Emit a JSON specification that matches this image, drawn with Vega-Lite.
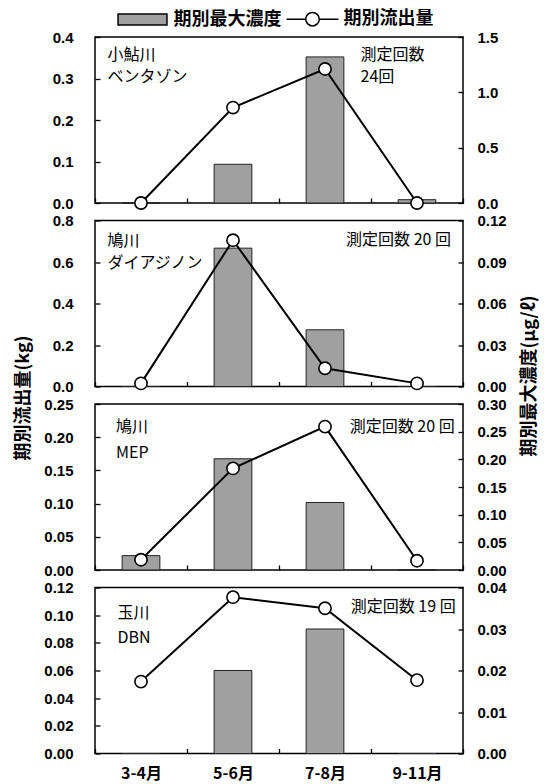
{
  "$schema": "https://vega.github.io/schema/vega-lite/v6.json",
  "padding": {"left": 13, "top": 3, "right": 5, "bottom": 5},
  "bounds": "flush",
  "spacing": 17.5,
  "config": {
    "view": {"stroke": "black", "strokeWidth": 1.5},
    "axis": {"domain": false, "grid": false, "ticks": true, "tickColor": "black", "tickSize": 5, "tickWidth": 1.3, "offset": -5, "labelFont": "Liberation Sans", "labelFontSize": 15, "labelFontWeight": "bold", "labelColor": "black", "labelOverlap": false, "titleFont": "Noto Sans CJK JP", "titleFontSize": 18, "titleColor": "black", "titleFontWeight": "bold"},
    "text": {"font": "Noto Sans CJK JP", "fontSize": 16, "color": "black"}
  },
  "datasets": {
    "p1": [
      {"period": "3-4月", "flow": 0, "conc": 0},
      {"period": "5-6月", "flow": 0.23, "conc": 0.35},
      {"period": "7-8月", "flow": 0.323, "conc": 1.32},
      {"period": "9-11月", "flow": 0, "conc": 0.03}
    ],
    "p2": [
      {"period": "3-4月", "flow": 0.015, "conc": 0},
      {"period": "5-6月", "flow": 0.705, "conc": 0.1},
      {"period": "7-8月", "flow": 0.088, "conc": 0.041},
      {"period": "9-11月", "flow": 0.015, "conc": 0}
    ],
    "p3": [
      {"period": "3-4月", "flow": 0.0155, "conc": 0.026},
      {"period": "5-6月", "flow": 0.153, "conc": 0.201},
      {"period": "7-8月", "flow": 0.216, "conc": 0.122},
      {"period": "9-11月", "flow": 0.014, "conc": 0}
    ],
    "p4": [
      {"period": "3-4月", "flow": 0.052, "conc": 0},
      {"period": "5-6月", "flow": 0.113, "conc": 0.02},
      {"period": "7-8月", "flow": 0.105, "conc": 0.03},
      {"period": "9-11月", "flow": 0.053, "conc": 0}
    ]
  },
  "vconcat": [
    {
      "width": 368, "height": 166,
      "data": {"name": "p1"},
      "encoding": {"x": {"field": "period", "type": "nominal", "sort": null, "scale": {"paddingInner": 0, "paddingOuter": 0}, "axis": {"title": null, "labels": false, "ticks": true, "tickBand": "extent", "labelOverlap": false}}},
      "layer": [
        {"mark": {"type": "bar", "fill": "#a0a0a0", "stroke": "#222", "strokeWidth": 1, "width": {"band": 0.41}},
         "encoding": {"y": {"field": "conc", "type": "quantitative", "scale": {"domain": [0, 1.5], "nice": false}, "axis": {"orient": "right", "title": null, "values": [0, 0.5, 1, 1.5], "format": ".1f", "labelPadding": 14, "labelOverlap": false, "ticks": true}}}},
        {"layer": [
          {"mark": {"type": "line", "color": "black", "strokeWidth": 2},
           "encoding": {"y": {"field": "flow", "type": "quantitative", "scale": {"domain": [0, 0.4], "nice": false}, "axis": {"orient": "left", "title": null, "values": [0, 0.1, 0.2, 0.3, 0.4], "format": ".1f", "labelPadding": 22, "labelOverlap": false, "ticks": true}}}},
          {"mark": {"type": "point", "filled": true, "fill": "white", "stroke": "black", "strokeWidth": 1.6, "size": 150, "opacity": 1},
           "encoding": {"y": {"field": "flow", "type": "quantitative", "axis": {"orient": "left", "title": null, "values": [0, 0.1, 0.2, 0.3, 0.4], "format": ".1f", "labelPadding": 22, "labelOverlap": false, "ticks": true}}}},
          {"data": {"values": [{}]},
           "mark": {"type": "text", "text": ["小鮎川", "ベンタゾン"], "align": "left", "baseline": "top", "dx": -33.6, "dy": 10, "lineHeight": 22},
           "encoding": {"x": {"datum": "3-4月", "type": "nominal", "axis": {"title": null, "labels": false, "ticks": true, "tickBand": "extent", "labelOverlap": false}},
                        "y": {"datum": 0.4, "type": "quantitative", "axis": {"orient": "left", "title": null, "values": [0, 0.1, 0.2, 0.3, 0.4], "format": ".1f", "labelPadding": 22, "labelOverlap": false, "ticks": true}}}},
          {"data": {"values": [{}]},
           "mark": {"type": "text", "text": ["測定回数", "24回"], "align": "left", "baseline": "top", "dx": -56.4, "dy": 10, "lineHeight": 22},
           "encoding": {"x": {"datum": "9-11月", "type": "nominal", "axis": {"title": null, "labels": false, "ticks": true, "tickBand": "extent", "labelOverlap": false}},
                        "y": {"datum": 0.4, "type": "quantitative", "axis": {"orient": "left", "title": null, "values": [0, 0.1, 0.2, 0.3, 0.4], "format": ".1f", "labelPadding": 22, "labelOverlap": false, "ticks": true}}}},
          {"data": {"values": [{"s": "期別最大濃度"}, {"s": "期別流出量"}]},
           "mark": {"type": "point", "filled": true, "opacity": 0, "strokeWidth": 1.5},
           "encoding": {
             "x": {"datum": "3-4月", "type": "nominal", "axis": {"title": null, "labels": false, "ticks": true, "tickBand": "extent", "labelOverlap": false}},
             "y": {"datum": 0, "type": "quantitative", "axis": {"orient": "left", "title": null, "values": [0, 0.1, 0.2, 0.3, 0.4], "format": ".1f", "labelPadding": 22, "labelOverlap": false, "ticks": true}},
             "fill": {"field": "s", "type": "nominal", "scale": {"domain": ["期別最大濃度", "期別流出量"], "range": ["#a0a0a0", "white"]},
               "legend": {"title": null, "orient": "none", "legendX": 31.5, "legendY": -34, "direction": "horizontal", "symbolSize": 900, "symbolStrokeWidth": 1.5, "symbolOpacity": 1, "labelFont": "Noto Sans CJK JP", "labelFontSize": 18, "labelFontWeight": "bold", "labelOffset": 15, "columnPadding": 2, "labelColor": "black", "padding": 0}},
             "stroke": {"field": "s", "type": "nominal", "scale": {"domain": ["期別最大濃度", "期別流出量"], "range": ["black", "black"]},
               "legend": {"title": null, "orient": "none", "legendX": 31.5, "legendY": -34, "direction": "horizontal", "symbolSize": 900, "symbolStrokeWidth": 1.5, "symbolOpacity": 1, "labelFont": "Noto Sans CJK JP", "labelFontSize": 18, "labelFontWeight": "bold", "labelOffset": 15, "columnPadding": 2, "labelColor": "black", "padding": 0}},
             "shape": {"field": "s", "type": "nominal", "scale": {"domain": ["期別最大濃度", "期別流出量"], "range": ["M-1.63,-0.37H1.63V0.37H-1.63Z", "M-1.73,0H-0.45A0.45,0.45,0,1,1,0.45,0A0.45,0.45,0,1,1,-0.45,0ZM0.45,0H1.73"]},
               "legend": {"title": null, "orient": "none", "legendX": 31.5, "legendY": -34, "direction": "horizontal", "symbolSize": 900, "symbolStrokeWidth": 1.5, "symbolOpacity": 1, "labelFont": "Noto Sans CJK JP", "labelFontSize": 18, "labelFontWeight": "bold", "labelOffset": 15, "columnPadding": 2, "labelColor": "black", "padding": 0}}
           }}
        ]}
      ],
      "resolve": {"scale": {"y": "independent"}}
    },
    {
      "width": 368, "height": 166,
      "data": {"name": "p2"},
      "encoding": {"x": {"field": "period", "type": "nominal", "sort": null, "scale": {"paddingInner": 0, "paddingOuter": 0}, "axis": {"title": null, "labels": false, "ticks": true, "tickBand": "extent", "labelOverlap": false}}},
      "layer": [
        {"mark": {"type": "bar", "fill": "#a0a0a0", "stroke": "#222", "strokeWidth": 1, "width": {"band": 0.41}},
         "encoding": {"y": {"field": "conc", "type": "quantitative", "scale": {"domain": [0, 0.12], "nice": false}, "axis": {"orient": "right", "title": "期別最大濃度(μg/ℓ)", "titleAngle": 270, "titleX": 71, "titleY": 155, "titleAlign": "center", "titleBaseline": "middle", "values": [0, 0.03, 0.06, 0.09, 0.12], "format": ".2f", "labelPadding": 14, "labelOverlap": false, "ticks": true}}}},
        {"layer": [
          {"mark": {"type": "line", "color": "black", "strokeWidth": 2},
           "encoding": {"y": {"field": "flow", "type": "quantitative", "scale": {"domain": [0, 0.8], "nice": false}, "axis": {"orient": "left", "title": "期別流出量(kg)", "titleAngle": 270, "titleX": -77, "titleY": 177, "titleAlign": "center", "titleBaseline": "middle", "values": [0, 0.2, 0.4, 0.6, 0.8], "format": ".1f", "labelPadding": 22, "labelOverlap": false, "ticks": true}}}},
          {"mark": {"type": "point", "filled": true, "fill": "white", "stroke": "black", "strokeWidth": 1.6, "size": 150, "opacity": 1},
           "encoding": {"y": {"field": "flow", "type": "quantitative", "axis": {"orient": "left", "title": "期別流出量(kg)", "titleAngle": 270, "titleX": -77, "titleY": 177, "titleAlign": "center", "titleBaseline": "middle", "values": [0, 0.2, 0.4, 0.6, 0.8], "format": ".1f", "labelPadding": 22, "labelOverlap": false, "ticks": true}}}},
          {"data": {"values": [{}]},
           "mark": {"type": "text", "text": ["鳩川", "ダイアジノン"], "align": "left", "baseline": "top", "dx": -33.6, "dy": 12.5, "lineHeight": 22},
           "encoding": {"x": {"datum": "3-4月", "type": "nominal", "axis": {"title": null, "labels": false, "ticks": true, "tickBand": "extent", "labelOverlap": false}},
                        "y": {"datum": 0.8, "type": "quantitative", "axis": {"orient": "left", "title": "期別流出量(kg)", "titleAngle": 270, "titleX": -77, "titleY": 177, "titleAlign": "center", "titleBaseline": "middle", "values": [0, 0.2, 0.4, 0.6, 0.8], "format": ".1f", "labelPadding": 22, "labelOverlap": false, "ticks": true}}}},
          {"data": {"values": [{}]},
           "mark": {"type": "text", "text": "測定回数 20 回", "align": "right", "baseline": "top", "dx": 34, "dy": 11},
           "encoding": {"x": {"datum": "9-11月", "type": "nominal", "axis": {"title": null, "labels": false, "ticks": true, "tickBand": "extent", "labelOverlap": false}},
                        "y": {"datum": 0.8, "type": "quantitative", "axis": {"orient": "left", "title": "期別流出量(kg)", "titleAngle": 270, "titleX": -77, "titleY": 177, "titleAlign": "center", "titleBaseline": "middle", "values": [0, 0.2, 0.4, 0.6, 0.8], "format": ".1f", "labelPadding": 22, "labelOverlap": false, "ticks": true}}}}
        ]}
      ],
      "resolve": {"scale": {"y": "independent"}}
    },
    {
      "width": 368, "height": 166,
      "data": {"name": "p3"},
      "encoding": {"x": {"field": "period", "type": "nominal", "sort": null, "scale": {"paddingInner": 0, "paddingOuter": 0}, "axis": {"title": null, "labels": false, "ticks": true, "tickBand": "extent", "labelOverlap": false}}},
      "layer": [
        {"mark": {"type": "bar", "fill": "#a0a0a0", "stroke": "#222", "strokeWidth": 1, "width": {"band": 0.41}},
         "encoding": {"y": {"field": "conc", "type": "quantitative", "scale": {"domain": [0, 0.3], "nice": false}, "axis": {"orient": "right", "title": null, "values": [0, 0.05, 0.1, 0.15, 0.2, 0.25, 0.3], "format": ".2f", "labelPadding": 14, "labelOverlap": false, "ticks": true}}}},
        {"layer": [
          {"mark": {"type": "line", "color": "black", "strokeWidth": 2},
           "encoding": {"y": {"field": "flow", "type": "quantitative", "scale": {"domain": [0, 0.25], "nice": false}, "axis": {"orient": "left", "title": null, "values": [0, 0.05, 0.1, 0.15, 0.2, 0.25], "format": ".2f", "labelPadding": 22, "labelOverlap": false, "ticks": true}}}},
          {"mark": {"type": "point", "filled": true, "fill": "white", "stroke": "black", "strokeWidth": 1.6, "size": 150, "opacity": 1},
           "encoding": {"y": {"field": "flow", "type": "quantitative", "axis": {"orient": "left", "title": null, "values": [0, 0.05, 0.1, 0.15, 0.2, 0.25], "format": ".2f", "labelPadding": 22, "labelOverlap": false, "ticks": true}}}},
          {"data": {"values": [{}]},
           "mark": {"type": "text", "text": ["鳩川", "MEP"], "align": "left", "baseline": "top", "dx": -25, "dy": 14.5, "lineHeight": 26},
           "encoding": {"x": {"datum": "3-4月", "type": "nominal", "axis": {"title": null, "labels": false, "ticks": true, "tickBand": "extent", "labelOverlap": false}},
                        "y": {"datum": 0.25, "type": "quantitative", "axis": {"orient": "left", "title": null, "values": [0, 0.05, 0.1, 0.15, 0.2, 0.25], "format": ".2f", "labelPadding": 22, "labelOverlap": false, "ticks": true}}}},
          {"data": {"values": [{}]},
           "mark": {"type": "text", "text": "測定回数 20 回", "align": "right", "baseline": "top", "dx": 37.7, "dy": 14.5},
           "encoding": {"x": {"datum": "9-11月", "type": "nominal", "axis": {"title": null, "labels": false, "ticks": true, "tickBand": "extent", "labelOverlap": false}},
                        "y": {"datum": 0.25, "type": "quantitative", "axis": {"orient": "left", "title": null, "values": [0, 0.05, 0.1, 0.15, 0.2, 0.25], "format": ".2f", "labelPadding": 22, "labelOverlap": false, "ticks": true}}}}
        ]}
      ],
      "resolve": {"scale": {"y": "independent"}}
    },
    {
      "width": 368, "height": 166,
      "data": {"name": "p4"},
      "encoding": {"x": {"field": "period", "type": "nominal", "sort": null, "scale": {"paddingInner": 0, "paddingOuter": 0}, "axis": {"title": null, "labels": true, "ticks": true, "tickBand": "extent", "labelFont": "Noto Sans CJK JP", "labelFontSize": 16, "labelFontWeight": "bold", "labelPadding": 20, "labelBaseline": "middle", "labelAngle": 0, "labelOverlap": false}}},
      "layer": [
        {"mark": {"type": "bar", "fill": "#a0a0a0", "stroke": "#222", "strokeWidth": 1, "width": {"band": 0.41}},
         "encoding": {"y": {"field": "conc", "type": "quantitative", "scale": {"domain": [0, 0.04], "nice": false}, "axis": {"orient": "right", "title": null, "values": [0, 0.01, 0.02, 0.03, 0.04], "format": ".2f", "labelPadding": 14, "labelOverlap": false, "ticks": true}}}},
        {"layer": [
          {"mark": {"type": "line", "color": "black", "strokeWidth": 2},
           "encoding": {"y": {"field": "flow", "type": "quantitative", "scale": {"domain": [0, 0.12], "nice": false}, "axis": {"orient": "left", "title": null, "values": [0, 0.02, 0.04, 0.06, 0.08, 0.1, 0.12], "format": ".2f", "labelPadding": 22, "labelOverlap": false, "ticks": true}}}},
          {"mark": {"type": "point", "filled": true, "fill": "white", "stroke": "black", "strokeWidth": 1.6, "size": 150, "opacity": 1},
           "encoding": {"y": {"field": "flow", "type": "quantitative", "axis": {"orient": "left", "title": null, "values": [0, 0.02, 0.04, 0.06, 0.08, 0.1, 0.12], "format": ".2f", "labelPadding": 22, "labelOverlap": false, "ticks": true}}}},
          {"data": {"values": [{}]},
           "mark": {"type": "text", "text": ["玉川", "DBN"], "align": "left", "baseline": "top", "dx": -23.5, "dy": 17, "lineHeight": 25},
           "encoding": {"x": {"datum": "3-4月", "type": "nominal", "axis": {"title": null, "labels": true, "ticks": true, "tickBand": "extent", "labelFont": "Noto Sans CJK JP", "labelFontSize": 16, "labelFontWeight": "bold", "labelPadding": 20, "labelBaseline": "middle", "labelAngle": 0, "labelOverlap": false}},
                        "y": {"datum": 0.12, "type": "quantitative", "axis": {"orient": "left", "title": null, "values": [0, 0.02, 0.04, 0.06, 0.08, 0.1, 0.12], "format": ".2f", "labelPadding": 22, "labelOverlap": false, "ticks": true}}}},
          {"data": {"values": [{}]},
           "mark": {"type": "text", "text": "測定回数 19 回", "align": "right", "baseline": "top", "dx": 38.7, "dy": 11},
           "encoding": {"x": {"datum": "9-11月", "type": "nominal", "axis": {"title": null, "labels": true, "ticks": true, "tickBand": "extent", "labelFont": "Noto Sans CJK JP", "labelFontSize": 16, "labelFontWeight": "bold", "labelPadding": 20, "labelBaseline": "middle", "labelAngle": 0, "labelOverlap": false}},
                        "y": {"datum": 0.12, "type": "quantitative", "axis": {"orient": "left", "title": null, "values": [0, 0.02, 0.04, 0.06, 0.08, 0.1, 0.12], "format": ".2f", "labelPadding": 22, "labelOverlap": false, "ticks": true}}}}
        ]}
      ],
      "resolve": {"scale": {"y": "independent"}}
    }
  ]
}
